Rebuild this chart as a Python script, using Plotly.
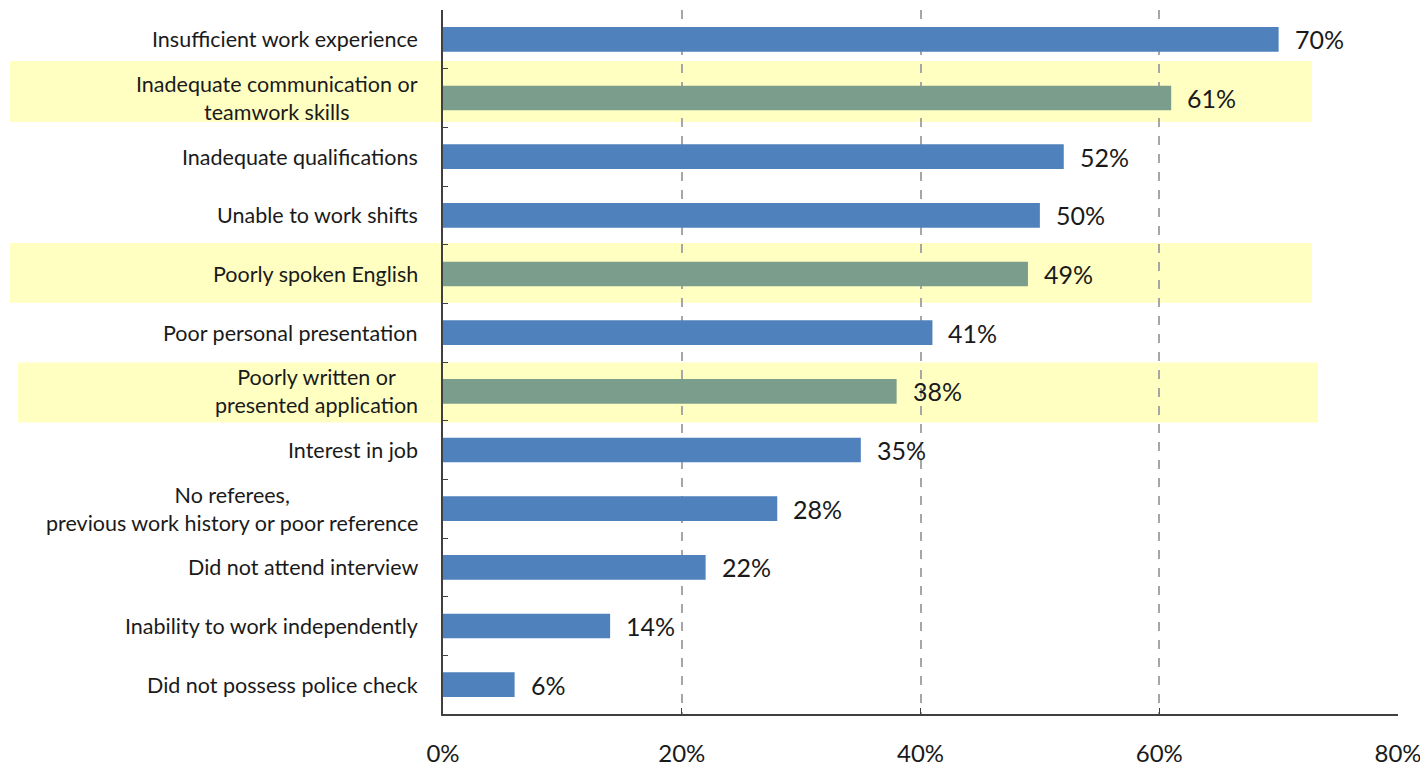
import plotly.graph_objects as go

categories = [
    "Insufficient work experience",
    "Inadequate communication or<br>teamwork skills",
    "Inadequate qualifications",
    "Unable to work shifts",
    "Poorly spoken English",
    "Poor personal presentation",
    "Poorly written or<br>presented application",
    "Interest in job",
    "No referees,<br>previous work history or poor reference",
    "Did not attend interview",
    "Inability to work independently",
    "Did not possess police check",
]
values = [70, 61, 52, 50, 49, 41, 38, 35, 28, 22, 14, 6]
highlighted = [False, True, False, False, True, False, True, False, False, False, False, False]
x_ticks = [0, 20, 40, 60, 80]
x_tick_labels = ["0%", "20%", "40%", "60%", "80%"]

BLUE = "#4F81BD"
GREEN = "#7A9E8B"
YELLOW = "#FFFFC2"
FONT = "Lato"
TXT = "#1a1a1a"

idx = list(range(len(categories)))
colors = [GREEN if h else BLUE for h in highlighted]

fig = go.Figure()
fig.add_trace(go.Bar(
    x=values, y=idx, orientation="h",
    marker=dict(color=colors, line=dict(width=0)),
    width=0.42, hoverinfo="skip",
))

# highlight bands (paper x relative to plot area, data y)
L, R = 443, 1398
W = R - L
band_extents = {1: (10, 1312, -0.63, 0.41), 4: (10, 1312, -0.53, 0.49), 6: (18, 1318, -0.49, 0.53)}
for i, h in enumerate(highlighted):
    if h:
        x0p, x1p, d0, d1 = band_extents[i]
        fig.add_shape(type="rect", xref="paper", yref="y",
                      x0=(x0p - L) / W, x1=(x1p - L) / W,
                      y0=i + d0, y1=i + d1,
                      fillcolor=YELLOW, line=dict(width=0), layer="below")

# category labels
for i, c in enumerate(categories):
    fig.add_annotation(xref="paper", yref="y", x=0, y=i, text=c,
                       xanchor="right", yanchor="middle", align="center",
                       xshift=-23, showarrow=False,
                       font=dict(family=FONT, size=21.5, color=TXT))

# value labels
for i, v in enumerate(values):
    fig.add_annotation(xref="x", yref="y", x=v, y=i, text=f"{v}%",
                       xanchor="left", yanchor="middle", xshift=14,
                       showarrow=False,
                       font=dict(family=FONT, size=25, color=TXT))

fig.update_xaxes(
    range=[0, 80], tickvals=x_ticks, ticktext=x_tick_labels,
    showgrid=True, gridcolor="#A6A6A6", griddash="dash", gridwidth=1.5,
    showline=True, linecolor="#404040", linewidth=1.5,
    ticks="inside", ticklen=6, tickcolor="#404040",
    tickfont=dict(family=FONT, size=24, color=TXT),
    ticklabelstandoff=17, zeroline=False, fixedrange=True, automargin=False,
)
fig.update_yaxes(
    range=[len(categories) - 0.5, -0.5],
    tickvals=[k - 0.5 for k in range(len(categories) + 1)],
    showticklabels=False, showgrid=False, zeroline=False,
    showline=True, linecolor="#404040", linewidth=1.5,
    ticks="inside", ticklen=5, tickcolor="#404040", automargin=False,
)
# page body has an 8px margin; size the figure so the plot area lands where the reference has it
fig.update_layout(
    width=1420, height=759,
    margin=dict(l=435, r=30, t=2, b=53, autoexpand=False),
    paper_bgcolor="white", plot_bgcolor="rgba(0,0,0,0)",
    showlegend=False,
)
fig.write_html("out.html")
